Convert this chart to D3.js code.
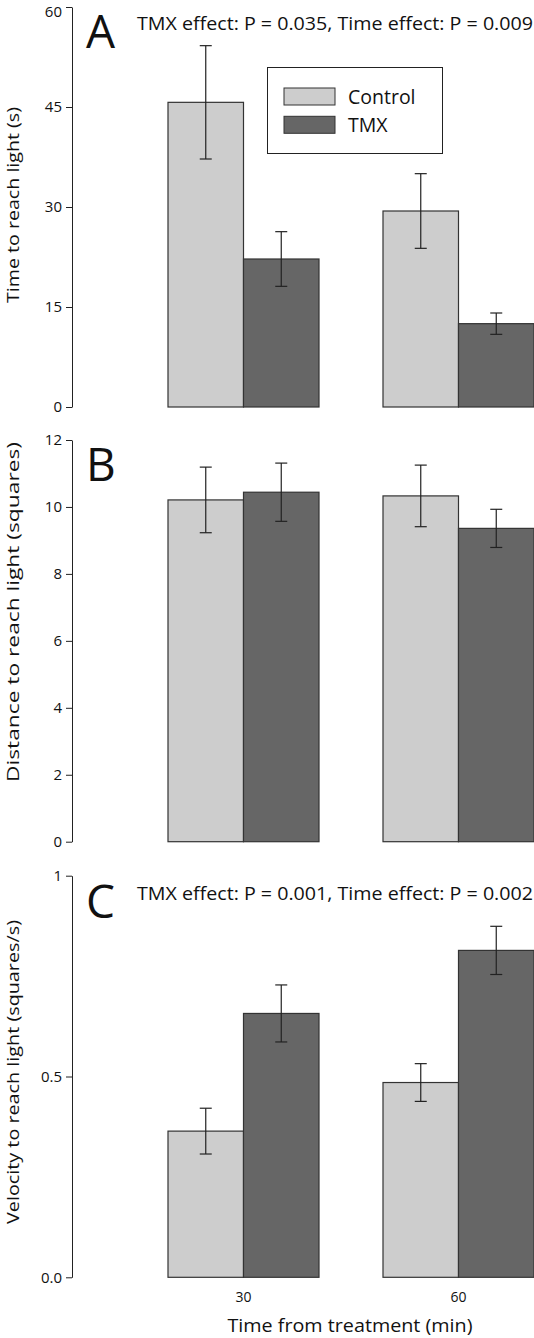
<!DOCTYPE html>
<html>
<head>
<meta charset="utf-8">
<script src="https://cdn.jsdelivr.net/npm/d3@7"></script>
<style>
  html, body { margin: 0; padding: 0; background: #fff; }
  svg { display: block; font-family: "Open Sans", "Noto Sans", sans-serif; }
</style>
</head>
<body>
<svg id="chart" width="534" height="1338"></svg>
<script>
// ---- data ----
const groups = ["30", "60"];
const series = ["Control", "TMX"];

const timeControl = [45.7, 29.4];
const timeTMX = [22.2, 12.5];
const timeControlSE = [8.5, 5.6];
const timeTMXSE = [4.1, 1.6];
const timeTicks = [0, 15, 30, 45, 60];
const timeTickLabels = ["0", "15", "30", "45", "60"];

const distControl = [10.21, 10.33];
const distTMX = [10.44, 9.36];
const distControlSE = [0.98, 0.92];
const distTMXSE = [0.87, 0.57];
const distTicks = [0, 2, 4, 6, 8, 10, 12];
const distTickLabels = ["0", "2", "4", "6", "8", "10", "12"];

const velControl = [0.364, 0.485];
const velTMX = [0.657, 0.814];
const velControlSE = [0.057, 0.047];
const velTMXSE = [0.071, 0.060];
const velTicks = [0, 0.5, 1];
const velTickLabels = ["0.0", "0.5", "1"];

const yLabels = ["Time to reach light (s)", "Distance to reach light (squares)", "Velocity to reach light (squares/s)"];
const panelLetters = ["A", "B", "C"];
const statTexts = ["TMX effect: P = 0.035, Time effect: P = 0.009", "", "TMX effect: P = 0.001, Time effect: P = 0.002"];
const xTitle = "Time from treatment (min)";

const colors = { Control: "#cdcdcd", TMX: "#666666" };

// ---- layout ----
const svg = d3.select("#chart");
const axisX = 72;
const panels = [
  { mean: [timeControl, timeTMX], se: [timeControlSE, timeTMXSE], ticks: timeTicks, tickLabels: timeTickLabels, max: 60, y0: 407, y1: 7, labelY: 205, labelLen: 196, letterY: 48, statY: 30 },
  { mean: [distControl, distTMX], se: [distControlSE, distTMXSE], ticks: distTicks, tickLabels: distTickLabels, max: 12, y0: 841.7, y1: 440, labelY: 612, labelLen: 340, letterY: 481 },
  { mean: [velControl, velTMX], se: [velControlSE, velTMXSE], ticks: velTicks, tickLabels: velTickLabels, max: 1, y0: 1277.3, y1: 875.7, labelY: 1072, labelLen: 304, letterY: 918, statY: 900 }
];

const x = d3.scaleBand().domain(groups).range([168, 534]).paddingInner(64 / 215).paddingOuter(0);
const xs = d3.scaleBand().domain(series).range([0, x.bandwidth()]);

panels.forEach((p, i) => {
  const y = d3.scaleLinear().domain([0, p.max]).range([p.y0, p.y1]);
  const g = svg.append("g");

  // axis
  const axis = d3.axisLeft(y).tickValues(p.ticks).tickFormat((d, k) => p.tickLabels[k]).tickSize(6).tickSizeOuter(0).tickPadding(4);
  const ag = g.append("g").attr("transform", `translate(${axisX},0)`).call(axis);
  ag.select(".domain").attr("stroke", "#222").attr("stroke-width", 1);
  ag.selectAll(".tick line").attr("stroke", "#222");
  ag.selectAll(".tick text").attr("font-size", 15).attr("fill", "#111").attr("font-family", "\"Open Sans\", sans-serif")
    .attr("dy", d => (d === p.max && i === 0 ? "0.62em" : "0.32em"));

  // y label
  g.append("text")
    .attr("transform", `translate(19,${p.labelY}) rotate(-90)`)
    .attr("text-anchor", "middle")
    .attr("font-size", 17)
    .attr("fill", "#111")
    .attr("textLength", p.labelLen)
    .attr("lengthAdjust", "spacingAndGlyphs")
    .text(yLabels[i]);

  // bars
  const rows = [];
  groups.forEach((gName, gi) => {
    series.forEach((s, si) => {
      rows.push({ group: gName, series: s, value: p.mean[si][gi], se: p.se[si][gi] });
    });
  });

  g.selectAll("rect.bar").data(rows).join("rect")
    .attr("class", "bar")
    .attr("x", d => x(d.group) + xs(d.series))
    .attr("width", xs.bandwidth())
    .attr("y", d => y(d.value))
    .attr("height", d => y(0) - y(d.value))
    .attr("fill", d => colors[d.series])
    .attr("stroke", "#333")
    .attr("stroke-width", 1.2);

  // error bars
  const eb = g.selectAll("g.err").data(rows).join("g").attr("class", "err")
    .attr("transform", d => `translate(${x(d.group) + xs(d.series) + xs.bandwidth() / 2},0)`);
  eb.append("line").attr("y1", d => y(d.value - d.se)).attr("y2", d => y(d.value + d.se)).attr("stroke", "#222").attr("stroke-width", 1.2);
  eb.append("line").attr("x1", -6).attr("x2", 6).attr("y1", d => y(d.value + d.se)).attr("y2", d => y(d.value + d.se)).attr("stroke", "#222").attr("stroke-width", 1.2);
  eb.append("line").attr("x1", -6).attr("x2", 6).attr("y1", d => y(d.value - d.se)).attr("y2", d => y(d.value - d.se)).attr("stroke", "#222").attr("stroke-width", 1.2);

  // panel letter
  g.append("text").attr("x", 86).attr("y", p.letterY).attr("font-size", 46).attr("fill", "#111").text(panelLetters[i]);

  // stats
  if (statTexts[i]) {
    g.append("text").attr("x", 137).attr("y", p.statY).attr("font-size", 17.5).attr("fill", "#111")
      .attr("textLength", 396).attr("lengthAdjust", "spacingAndGlyphs")
      .text(statTexts[i]);
  }
});

// legend (panel A)
const lg = svg.append("g");
lg.append("rect").attr("x", 267.5).attr("y", 67.5).attr("width", 175).attr("height", 86).attr("fill", "#fff").attr("stroke", "#222").attr("stroke-width", 1);
series.forEach((s, i) => {
  lg.append("rect").attr("x", 284).attr("y", 88 + i * 28.3).attr("width", 51).attr("height", 17)
    .attr("fill", colors[s]).attr("stroke", "#333").attr("stroke-width", 1);
  lg.append("text").attr("x", 348).attr("y", 103.5 + i * 28.3).attr("font-size", 19.5).attr("fill", "#111").text(s);
});

// x axis labels (bottom)
const xLab = svg.append("g");
xLab.selectAll("text").data(groups).join("text")
  .attr("x", d => x(d) + xs.bandwidth())
  .attr("y", 1302)
  .attr("text-anchor", "middle")
  .attr("font-size", 14)
  .attr("fill", "#111")
  .text(d => d);
svg.append("text").attr("x", 350).attr("y", 1332).attr("text-anchor", "middle").attr("font-size", 18.5)
  .attr("textLength", 245).attr("lengthAdjust", "spacingAndGlyphs")
  .attr("fill", "#111").text(xTitle);
</script>
</body>
</html>
